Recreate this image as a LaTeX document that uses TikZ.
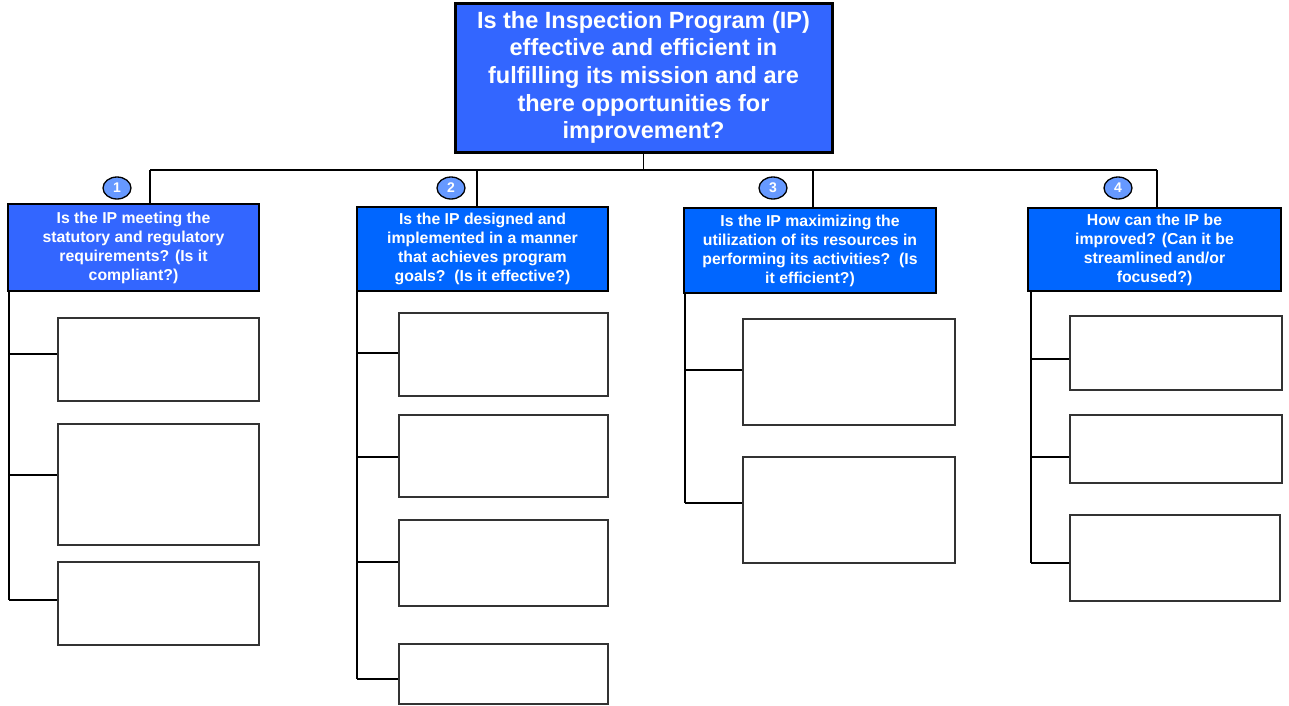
\documentclass[tikz,border=0pt]{standalone}
\usepackage{fontspec}
\setmainfont{Liberation Sans}
\usetikzlibrary{shapes.geometric}
\definecolor{topblue}{HTML}{3366FF}
\definecolor{qblue}{HTML}{0066FF}
\definecolor{numblue}{HTML}{6699FF}
\definecolor{leafgray}{HTML}{333333}
\tikzset{
  titlebox/.style={draw=black, line width=3pt, fill=topblue, text=white, align=center,
    font=\bfseries\fontsize{23.5}{27.7}\selectfont, inner sep=0pt,
    execute at begin node={\rule{0pt}{22.5pt}}},
  qbox/.style={draw=black, line width=2.6pt, fill=qblue, text=white, align=center,
    font=\bfseries\fontsize{15.8}{19}\selectfont, inner sep=0pt,
    execute at begin node={\rule{0pt}{17.5pt}}},
  leaf/.style={draw=leafgray, line width=1.6pt, fill=white, inner sep=0pt},
  numbadge/.style={ellipse, draw=black, line width=1.3pt, fill=numblue, text=white,
    minimum width=28pt, minimum height=22pt, inner sep=0pt,
    font=\bfseries\fontsize{14}{14}\selectfont},
  conn/.style={draw=black, line width=1.3pt},
}
\begin{document}
\begin{tikzpicture}[x=1pt,y=-1pt]
\useasboundingbox (0,0) rectangle (1289,705);

% top question
\node[titlebox, minimum width=377pt, minimum height=149pt] (top) at (643.5,77.5)
  {Is the Inspection Program (IP)\\effective and efficient in\\fulfilling its mission and are\\there opportunities for\\improvement?};

% second-level questions
\node[qbox, fill=topblue, minimum width=251pt, minimum height=87pt] (q1) at (133.5,247.5)
  {Is the IP meeting the\\statutory and regulatory\\requirements? (Is it\\compliant?)};
\node[qbox, minimum width=251pt, minimum height=84pt] (q2) at (482.5,249)
  {Is the IP designed and\\implemented in a manner\\that achieves program\\goals?\ \ (Is it effective?)};
\node[qbox, minimum width=252pt, minimum height=85pt] (q3) at (810,250.5)
  {Is the IP maximizing the\\utilization of its resources in\\performing its activities?\ \ (Is\\it efficient?)};
\node[qbox, minimum width=253pt, minimum height=83pt] (q4) at (1154.5,249.5)
  {How can the IP be\\improved? (Can it be\\streamlined and/or\\focused?)};

% bus connectors
\coordinate (d1) at (150,170);
\coordinate (d2) at (477,170);
\coordinate (d3) at (813,170);
\coordinate (d4) at (1157,170);
\draw[conn] (top.south) -- (top.south |- d1);
\draw[conn] (d1) -- (d4);
\draw[conn] (d1) -- (d1 |- q1.north);
\draw[conn] (d2) -- (d2 |- q2.north);
\draw[conn] (d3) -- (d3 |- q3.north);
\draw[conn] (d4) -- (d4 |- q4.north);

% number badges
\node[numbadge] (n1) at (117,188) {1};
\node[numbadge] (n2) at (451,188) {2};
\node[numbadge] (n3) at (773,188) {3};
\node[numbadge] (n4) at (1118,188) {4};

% column 1 leaves
\node[leaf, minimum width=201pt, minimum height=83pt] (c1a) at (158.5,359.5) {};
\node[leaf, minimum width=201pt, minimum height=121pt] (c1b) at (158.5,484.5) {};
\node[leaf, minimum width=201pt, minimum height=83pt] (c1c) at (158.5,603.5) {};
\coordinate (t1a) at (9,354);
\coordinate (t1b) at (9,475);
\coordinate (t1c) at (9,600);
\draw[conn] (q1.south west -| t1a) -- (t1c);
\draw[conn] (t1a) -- (t1a -| c1a.west);
\draw[conn] (t1b) -- (t1b -| c1b.west);
\draw[conn] (t1c) -- (t1c -| c1c.west);

% column 2 leaves
\node[leaf, minimum width=209pt, minimum height=83pt] (c2a) at (503.5,354.5) {};
\node[leaf, minimum width=209pt, minimum height=82pt] (c2b) at (503.5,456) {};
\node[leaf, minimum width=209pt, minimum height=86pt] (c2c) at (503.5,563) {};
\node[leaf, minimum width=209pt, minimum height=60pt] (c2d) at (503.5,674) {};
\coordinate (t2a) at (357,353);
\coordinate (t2b) at (357,457);
\coordinate (t2c) at (357,562);
\coordinate (t2d) at (357,679);
\draw[conn] (q2.south west -| t2a) -- (t2d);
\draw[conn] (t2a) -- (t2a -| c2a.west);
\draw[conn] (t2b) -- (t2b -| c2b.west);
\draw[conn] (t2c) -- (t2c -| c2c.west);
\draw[conn] (t2d) -- (t2d -| c2d.west);

% column 3 leaves
\node[leaf, minimum width=212pt, minimum height=106pt] (c3a) at (849,372) {};
\node[leaf, minimum width=212pt, minimum height=106pt] (c3b) at (849,510) {};
\coordinate (t3a) at (685,370);
\coordinate (t3b) at (685,503);
\draw[conn] (q3.south west -| t3a) -- (t3b);
\draw[conn] (t3a) -- (t3a -| c3a.west);
\draw[conn] (t3b) -- (t3b -| c3b.west);

% column 4 leaves
\node[leaf, minimum width=212pt, minimum height=74pt] (c4a) at (1176,353) {};
\node[leaf, minimum width=212pt, minimum height=68pt] (c4b) at (1176,449) {};
\node[leaf, minimum width=210pt, minimum height=86pt] (c4c) at (1175,558) {};
\coordinate (t4a) at (1031,359);
\coordinate (t4b) at (1031,457);
\coordinate (t4c) at (1031,563);
\draw[conn] (q4.south west -| t4a) -- (t4c);
\draw[conn] (t4a) -- (t4a -| c4a.west);
\draw[conn] (t4b) -- (t4b -| c4b.west);
\draw[conn] (t4c) -- (t4c -| c4c.west);
\end{tikzpicture}
\end{document}
